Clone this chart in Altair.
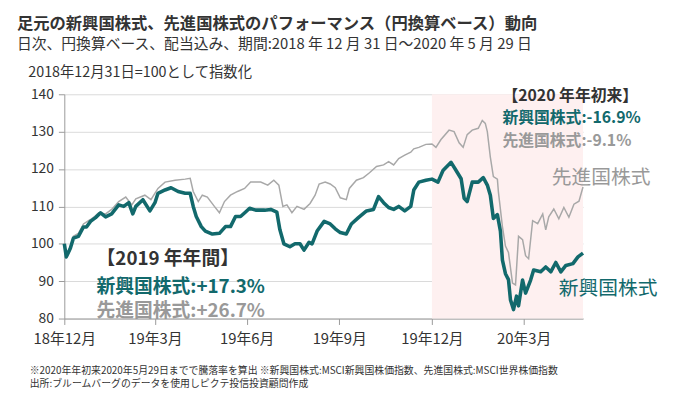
import altair as alt
import pandas as pd

# ---- Emerging markets (新興国株式) ----
em_dates = [
    "2018-12-31", "2019-01-02", "2019-01-06", "2019-01-09", "2019-01-14", "2019-01-19", "2019-01-22",
    "2019-01-26", "2019-01-31", "2019-02-05", "2019-02-10", "2019-02-16", "2019-02-23", "2019-02-28",
    "2019-03-05", "2019-03-09", "2019-03-12", "2019-03-19", "2019-03-26", "2019-03-31", "2019-04-03",
    "2019-04-10", "2019-04-16", "2019-04-23", "2019-04-30", "2019-05-05", "2019-05-08", "2019-05-11",
    "2019-05-16", "2019-05-20", "2019-05-27", "2019-06-03", "2019-06-09", "2019-06-14", "2019-06-19",
    "2019-06-24", "2019-06-29", "2019-07-03", "2019-07-09", "2019-07-18", "2019-07-24", "2019-07-30",
    "2019-08-02", "2019-08-06", "2019-08-12", "2019-08-17", "2019-08-22", "2019-08-26", "2019-08-31",
    "2019-09-03", "2019-09-08", "2019-09-15", "2019-09-21", "2019-09-26", "2019-10-01", "2019-10-07",
    "2019-10-12", "2019-10-19", "2019-10-27", "2019-11-03", "2019-11-08", "2019-11-13", "2019-11-18",
    "2019-11-23", "2019-11-28", "2019-12-04", "2019-12-10", "2019-12-13", "2019-12-18", "2019-12-25",
    "2019-12-31", "2020-01-06", "2020-01-11", "2020-01-19", "2020-01-24", "2020-01-29", "2020-02-01",
    "2020-02-04", "2020-02-09", "2020-02-15", "2020-02-20", "2020-02-24", "2020-02-27", "2020-03-01",
    "2020-03-05", "2020-03-08", "2020-03-10", "2020-03-13", "2020-03-16", "2020-03-18", "2020-03-21",
    "2020-03-24", "2020-03-26", "2020-03-30", "2020-04-02", "2020-04-07", "2020-04-10", "2020-04-17",
    "2020-04-22", "2020-04-27", "2020-05-02", "2020-05-07", "2020-05-12", "2020-05-19", "2020-05-24",
    "2020-05-29",
]
em_values = [
    100, 96.5, 98.8, 101.5, 102, 104.5, 104.5,
    106, 107, 108.3, 107.2, 108, 110.4, 110,
    111, 108, 110, 111.8, 108.8, 111, 113.5,
    114.4, 115, 114, 113.5, 113.5, 110, 107.3,
    104.6, 103.4, 102.6, 102.8, 104.6, 104.6, 107.3,
    107.3, 108.5, 109.5, 109, 109, 109.2, 108.5,
    103.8, 100, 99.2, 100, 100, 98.3, 100.4,
    100, 103.4, 106, 105.3, 104, 103, 102.6,
    105.3, 107, 108.8, 109.2, 112.6, 111, 109.7,
    109.2, 110, 108.8, 110, 114.4, 116.5, 117,
    117.3, 116.5, 119.6, 121.8, 119.6, 117.4, 112.2,
    111.3, 116.5, 116.5, 117.7, 115.7, 113, 106.8,
    107.8, 103.4, 95.6, 92, 90.4, 85, 82.4,
    86, 83.4, 90.3, 86.8, 90.3, 93, 92.5,
    93.8, 92.5, 95, 92.5, 94.2, 94.7, 96.5,
    97.5,
]

# ---- Developed markets (先進国株式) ----
dm_dates = [
    "2018-12-31", "2019-01-02", "2019-01-06", "2019-01-09", "2019-01-14", "2019-01-19", "2019-01-26",
    "2019-01-31", "2019-02-03", "2019-02-10", "2019-02-16", "2019-02-23", "2019-03-02", "2019-03-08",
    "2019-03-12", "2019-03-21", "2019-03-27", "2019-04-03", "2019-04-10", "2019-04-20", "2019-04-30",
    "2019-05-05", "2019-05-08", "2019-05-13", "2019-05-17", "2019-05-22", "2019-05-29", "2019-06-03",
    "2019-06-08", "2019-06-14", "2019-06-21", "2019-06-28", "2019-07-04", "2019-07-14", "2019-07-21",
    "2019-07-27", "2019-08-01", "2019-08-05", "2019-08-09", "2019-08-14", "2019-08-19", "2019-08-26",
    "2019-09-01", "2019-09-06", "2019-09-10", "2019-09-16", "2019-09-21", "2019-09-26", "2019-10-01",
    "2019-10-07", "2019-10-10", "2019-10-17", "2019-10-24", "2019-10-30", "2019-11-06", "2019-11-13",
    "2019-11-18", "2019-11-23", "2019-11-28", "2019-12-04", "2019-12-10", "2019-12-13", "2019-12-18",
    "2019-12-25", "2019-12-31", "2020-01-04", "2020-01-09", "2020-01-17", "2020-01-22", "2020-01-27",
    "2020-01-31", "2020-02-04", "2020-02-09", "2020-02-15", "2020-02-19", "2020-02-22", "2020-02-24",
    "2020-02-27", "2020-03-01", "2020-03-05", "2020-03-06", "2020-03-10", "2020-03-13", "2020-03-16",
    "2020-03-20", "2020-03-23", "2020-03-26", "2020-03-30", "2020-04-02", "2020-04-05", "2020-04-09",
    "2020-04-14", "2020-04-19", "2020-04-22", "2020-04-25", "2020-04-30", "2020-05-05", "2020-05-10",
    "2020-05-15", "2020-05-20", "2020-05-25", "2020-05-29",
]
dm_values = [
    100, 97, 99.3, 102, 102.8, 105.3, 106.5,
    107.5, 108.3, 108, 109.2, 111.3, 112.5, 110.4,
    112, 113, 111.8, 114.8, 116.5, 117, 117.3,
    117.5, 114, 111.3, 113, 112.5, 110, 108.3,
    111.3, 113, 114, 114.8, 116.5, 116.5, 115.7,
    117, 115.7, 110, 110.4, 108.3, 110, 109.2,
    110.8, 113, 116, 116.5, 116, 115, 112.3,
    111.8, 114.8, 117, 117.7, 119, 120.7, 121.1,
    122, 121.1, 122.8, 123.7, 124.5, 125.4, 125.8,
    126.6, 126.7, 125.8, 127.9, 130.4, 130, 127,
    125.8, 129.2, 130.4, 130.9, 133, 132.2, 130,
    123.2, 118, 117.3, 113.9, 104.6, 99.4, 97.7,
    89.5, 89, 102, 101.1, 96.8, 96, 106.2,
    105.4, 108, 103.7, 107.2, 109.3, 106.7, 109.7,
    107.1, 110.6, 111.4, 115.2,
]

# ---- shaded period (2020年年初来) ----
shade_start = ["2019-12-31"]
shade_end = ["2020-05-29"]

# ---- annotations ----
ann_text = [
    "【2019 年年間】", "新興国株式:+17.3%", "先進国株式:+26.7%",
    "【2020 年年初来】", "新興国株式:-16.9%", "先進国株式:-9.1%",
    "先進国株式", "新興国株式",
]
ann_date = [
    "2019-02-01", "2019-02-01", "2019-02-01",
    "2020-03-10", "2020-03-10", "2020-03-10",
    "2020-04-28", "2020-05-05",
]
ann_value = [96.6, 89.3, 82.7, 140.2, 134.3, 128.2, 118.4, 88.8]
ann_group = ["h19", "em19", "dm19", "h20", "em20", "dm20", "dml", "eml"]

x_ticks = ["2018-12-31", "2019-03-31", "2019-06-30", "2019-09-30", "2019-12-31", "2020-03-31"]
y_ticks = [80, 90, 100, 110, 120, 130, 140]

notes_text = [
    "※2020年年初来2020年5月29日までで騰落率を算出  ※新興国株式:MSCI新興国株価指数、先進国株式:MSCI世界株価指数",
    "出所:ブルームバーグのデータを使用しピクテ投信投資顧問作成",
]

TEAL = "#12696C"
GRAY = "#A8A8A8"
GRAYTXT = "#999999"
DARK = "#333333"
FONT = "Noto Sans CJK JP"

em_df = pd.DataFrame({"date": em_dates, "value": em_values})
dm_df = pd.DataFrame({"date": dm_dates, "value": dm_values})
shade_df = pd.DataFrame({"date": shade_start, "end": shade_end, "value": [80], "hi": [140]})
ann_df = pd.DataFrame({"text": ann_text, "date": ann_date, "value": ann_value, "g": ann_group})

x_scale = alt.Scale(type="utc", domain=["2018-12-31", "2020-05-29"])
y_scale = alt.Scale(domain=[80, 140], nice=False, zero=False)

x_axis = alt.Axis(
    values=[alt.DateTime(year=int(d[:4]), month=int(d[5:7]), date=int(d[8:]), utc=True) for d in x_ticks],
    labelExpr="utcFormat(datum.value, '%y年%-m月')", title=None, grid=False,
    labelFont=FONT, labelFontSize=15, labelColor=DARK, labelPadding=7,
    labelFlush=False, labelOverlap=False, labelBaseline="top",
    domainColor="#999999", tickColor="#999999", tickSize=6,
)
y_axis = alt.Axis(
    values=y_ticks,
    title="2018年12月31日=100として指数化", titleAngle=0, titleX=-37, titleY=-22,
    titleAlign="left", titleBaseline="middle", titleFont=FONT, titleFontSize=14.5,
    titleFontWeight="normal", titleColor=DARK,
    labelFont=FONT, labelFontSize=14, labelColor=DARK, labelPadding=5,
    gridColor="#D9D9D9", domainColor="#999999", tickColor="#999999", tickSize=6,
)

X = alt.X("date:T", scale=x_scale, axis=x_axis)
Y = alt.Y("value:Q", scale=y_scale, axis=y_axis)

shade = alt.Chart(shade_df).mark_rect(color="#FEF0F0").encode(
    x=X, x2="end:T", y=Y, y2="hi:Q",
)

dm_line = alt.Chart(dm_df).mark_line(color=GRAY, strokeWidth=1.5).encode(x=X, y=Y)
em_line = alt.Chart(em_df).mark_line(color=TEAL, strokeWidth=3.6, strokeJoin="round").encode(x=X, y=Y)


def ann(group, color, size, weight="bold"):
    return alt.Chart(ann_df).transform_filter(alt.datum.g == group).mark_text(
        align="left", baseline="middle", dy=3, font=FONT, fontSize=size, fontWeight=weight, color=color
    ).encode(x=X, y=Y, text="text:N")


def note(i, ypos):
    return alt.Chart(pd.DataFrame({"t": [notes_text[i]]})).mark_text(
        align="left", baseline="middle", font=FONT, fontSize=10, color=DARK
    ).encode(x=alt.value(-35), y=alt.value(ypos), text="t:N")


chart = alt.layer(
    shade, dm_line, em_line,
    ann("h19", DARK, 19, "bold"),
    ann("em19", TEAL, 19),
    ann("dm19", GRAYTXT, 19),
    ann("h20", DARK, 16, "bold"),
    ann("em20", TEAL, 16),
    ann("dm20", GRAYTXT, 16),
    ann("dml", GRAYTXT, 20, "normal"),
    ann("eml", TEAL, 20, "normal"),
    note(0, 280), note(1, 293),
).properties(
    width=525, height=227,
    autosize=alt.AutoSizeParams(type="none"),
    padding={"left": 57, "top": 85, "right": 83, "bottom": 70},
    title=alt.TitleParams(
        text="足元の新興国株式、先進国株式のパフォーマンス（円換算ベース）動向",
        subtitle="日次、円換算ベース、配当込み、期間:2018 年 12 月 31 日～2020 年 5 月 29 日",
        anchor="start", frame="group", dx=-48, offset=13,
        font=FONT, fontSize=16.5, fontWeight="bold", color=DARK,
        subtitleFont=FONT, subtitleFontSize=15, subtitleColor=DARK, subtitlePadding=5,
    ),
).configure_view(stroke=None)

chart.save("out.html", embed_options={"renderer": "svg", "actions": False})
